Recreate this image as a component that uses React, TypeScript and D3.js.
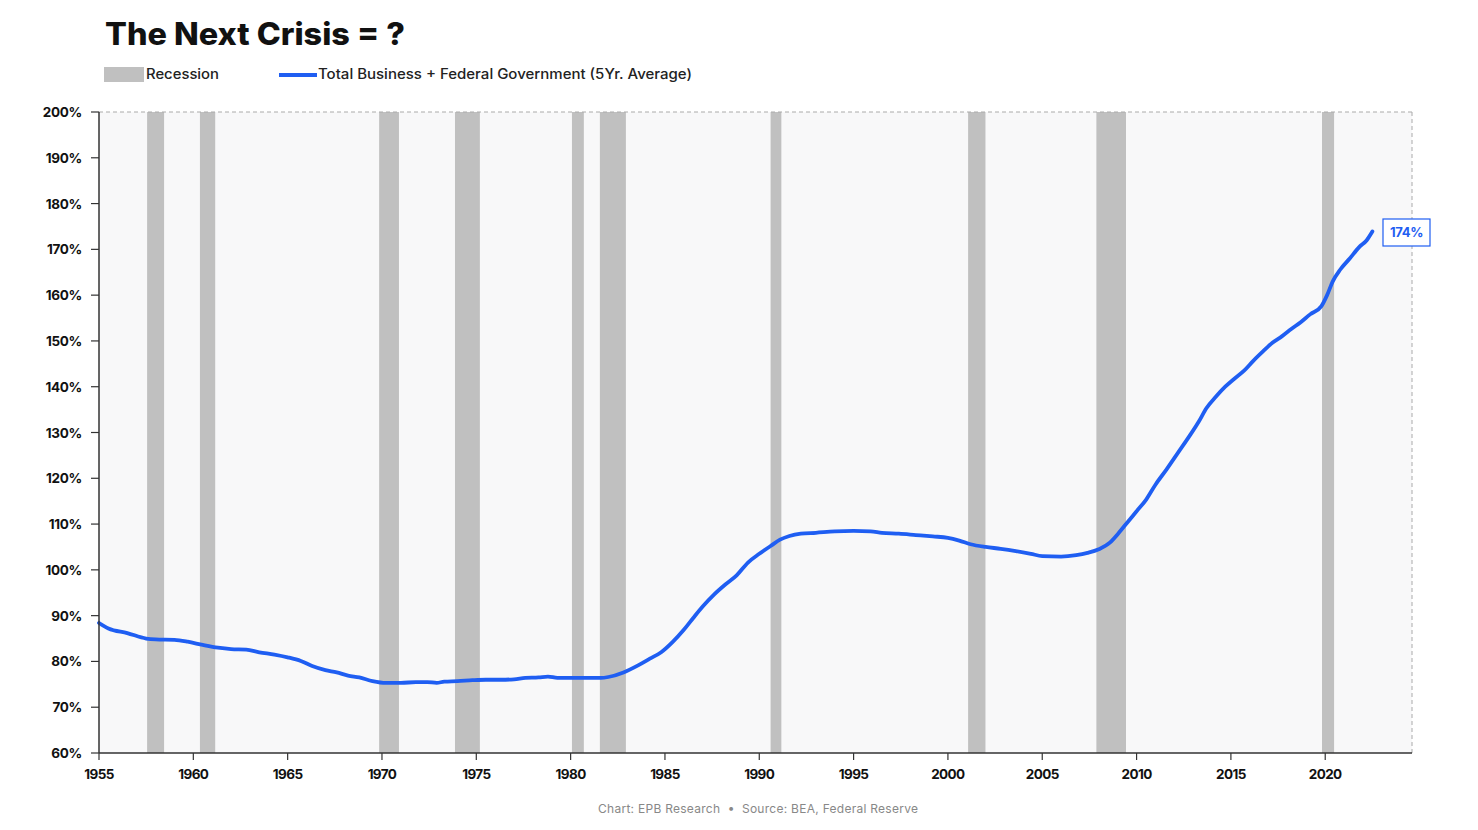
import React from "react";
import * as d3 from "d3";

const TITLE = "The Next Crisis = ?";
const SERIES_NAME = "Total Business + Federal Government (5Yr. Average)";
const RECESSION_NAME = "Recession";
const FOOTER = "Chart: EPB Research\u00a0\u00a0\u2022\u00a0\u00a0Source: BEA, Federal Reserve";

const years: number[] = [
  1955.0, 1955.5, 1956.5, 1957.5, 1958.0, 1959.0, 1959.7, 1960.5, 1961.3, 1962.0,
  1962.8, 1963.5, 1964.3, 1965.0, 1965.7, 1966.3, 1967.0, 1967.6, 1968.2, 1968.8,
  1969.5, 1970.2, 1971.0, 1971.8, 1972.4, 1972.9, 1973.3, 1974.0, 1974.8, 1975.5,
  1976.3, 1977.0, 1977.6, 1978.3, 1978.8, 1979.3, 1980.5, 1981.6, 1982.0, 1982.8,
  1983.6, 1984.2, 1984.8, 1985.4, 1986.0, 1986.5, 1987.0, 1987.6, 1988.2, 1988.8,
  1989.4, 1990.0, 1990.6, 1991.1, 1991.6, 1992.2, 1993.0, 1994.0, 1995.0, 1995.9,
  1996.5, 1997.4, 1998.3, 1999.2, 2000.0, 2000.6, 2001.2, 2002.0, 2002.8, 2003.6,
  2004.4, 2005.0, 2006.0, 2006.8, 2007.4, 2008.0, 2008.6, 2009.0, 2009.5, 2010.0,
  2010.5, 2011.0, 2011.6, 2012.2, 2012.8, 2013.3, 2013.7, 2014.2, 2014.7, 2015.2,
  2015.7, 2016.2, 2016.7, 2017.2, 2017.7, 2018.2, 2018.7, 2019.2, 2019.8, 2020.1,
  2020.4, 2020.8, 2021.3, 2021.8, 2022.2, 2022.5,
];

const values: number[] = [
  88.4, 87.2, 86.2, 85.0, 84.8, 84.7, 84.3, 83.6, 83.0, 82.7,
  82.6, 82.0, 81.5, 80.9, 80.1, 79.0, 78.1, 77.6, 76.9, 76.5,
  75.7, 75.3, 75.3, 75.5, 75.5, 75.3, 75.6, 75.7, 75.9, 76.0,
  76.0, 76.1, 76.4, 76.5, 76.7, 76.4, 76.4, 76.4, 76.6, 77.6,
  79.2, 80.6, 82.0, 84.2, 86.9, 89.5, 92.0, 94.6, 96.8, 98.8,
  101.6, 103.5, 105.2, 106.6, 107.4, 107.9, 108.1, 108.4, 108.5, 108.4,
  108.1, 107.9, 107.6, 107.3, 107.0, 106.4, 105.6, 105.0, 104.6, 104.1,
  103.5, 103.0, 102.9, 103.2, 103.7, 104.5, 106.0, 107.8, 110.3, 112.8,
  115.3, 118.6, 122.0, 125.6, 129.2, 132.4, 135.3, 137.8, 140.0, 141.8,
  143.5, 145.7, 147.7, 149.6, 151.0, 152.6, 154.1, 155.8, 157.6, 160.0,
  163.0, 165.6, 168.0, 170.5, 172.0, 173.9,
];

const recessionStarts: number[] = [1957.55, 1960.35, 1969.85, 1973.87, 1980.07, 1981.55, 1990.6, 2001.07, 2007.87, 2019.83];
const recessionEnds: number[] = [1958.45, 1961.16, 1970.9, 1975.19, 1980.7, 1982.93, 1991.17, 2001.99, 2009.44, 2020.47];

const xTicks: number[] = [1955, 1960, 1965, 1970, 1975, 1980, 1985, 1990, 1995, 2000, 2005, 2010, 2015, 2020];
const yTicks: number[] = [60, 70, 80, 90, 100, 110, 120, 130, 140, 150, 160, 170, 180, 190, 200];
const endLabel = "174%";

const W = 1478;
const H = 830;
const left = 99;
const right = 1412;
const top = 112;
const bottom = 753;

const BLUE = "#1f5ef2";
const FONT = "Inter, 'Open Sans', sans-serif";

export default function App() {
  const x = d3.scaleLinear().domain([1955, 2024.6]).range([left, right]);
  const y = d3.scaleLinear().domain([60, 200]).range([bottom, top]);
  const pts = years.map((yr, i) => [yr, values[i]] as [number, number]);
  const line = d3
    .line<[number, number]>()
    .x((d) => x(d[0]))
    .y((d) => y(d[1]))
    .curve(d3.curveMonotoneX);

  return (
    <svg
      width={W}
      height={H}
      style={{ position: "absolute", left: 0, top: 0, background: "#fff" }}
      fontFamily={FONT}
    >
      <rect x={0} y={0} width={W} height={H} fill="#fff" />
      <text x={105} y={45} fontSize={31} fontWeight={800} fill="#111" textLength={300} lengthAdjust="spacingAndGlyphs">
        {TITLE}
      </text>
      {/* legend */}
      <rect x={104} y={67} width={40} height={15} fill="#c0c0c0" />
      <text x={146} y={79} fontSize={14} fill="#222" fontWeight={500} textLength={73} lengthAdjust="spacingAndGlyphs">
        {RECESSION_NAME}
      </text>
      <line x1={279} x2={317} y1={75} y2={75} stroke={BLUE} strokeWidth={4} />
      <text x={318} y={79} fontSize={14} fill="#222" fontWeight={500} textLength={374} lengthAdjust="spacingAndGlyphs">
        {SERIES_NAME}
      </text>

      {/* plot bg */}
      <rect x={left} y={top} width={right - left} height={bottom - top} fill="#f8f8f9" />
      {recessionStarts.map((s, i) => (
        <rect
          key={i}
          x={x(s)}
          y={top}
          width={x(recessionEnds[i]) - x(s)}
          height={bottom - top}
          fill="#c0c0c0"
        />
      ))}
      <line x1={left} x2={right} y1={top} y2={top} stroke="#aaa" strokeDasharray="4,3" strokeWidth={1} />
      <line x1={right} x2={right} y1={top} y2={bottom} stroke="#aaa" strokeDasharray="4,3" strokeWidth={1} />

      {/* series */}
      <path d={line(pts) || ""} fill="none" stroke={BLUE} strokeWidth={3.8} strokeLinejoin="round" strokeLinecap="round" />

      {/* axes */}
      <line x1={left} x2={left} y1={top} y2={bottom} stroke="#333" strokeWidth={1.5} />
      <line x1={left} x2={right} y1={bottom} y2={bottom} stroke="#333" strokeWidth={1.5} />
      {yTicks.map((t) => (
        <g key={t}>
          <line x1={left - 8} x2={left} y1={y(t)} y2={y(t)} stroke="#333" strokeWidth={1.2} />
          <text x={82} y={y(t) + 5} textAnchor="end" fontSize={13.5} fontWeight={700} fill="#111" letterSpacing={-0.3}>
            {t + "%"}
          </text>
        </g>
      ))}
      {xTicks.map((t) => (
        <g key={t}>
          <line x1={x(t)} x2={x(t)} y1={bottom} y2={bottom + 7} stroke="#333" strokeWidth={1.2} />
          <text x={x(t)} y={779} textAnchor="middle" fontSize={13.5} fontWeight={700} fill="#111" letterSpacing={-0.6}>
            {String(t)}
          </text>
        </g>
      ))}

      {/* end label */}
      <rect x={1383} y={219} width={47} height={27} fill="#fff" stroke={BLUE} strokeWidth={1.2} />
      <text x={1406.5} y={237} textAnchor="middle" fontSize={13} fontWeight={700} fill={BLUE} letterSpacing={-0.3}>
        {endLabel}
      </text>

      <text x={598} y={813} fontSize={12} fill="#888" textLength={320} lengthAdjust="spacing">
        {FOOTER}
      </text>
    </svg>
  );
}
